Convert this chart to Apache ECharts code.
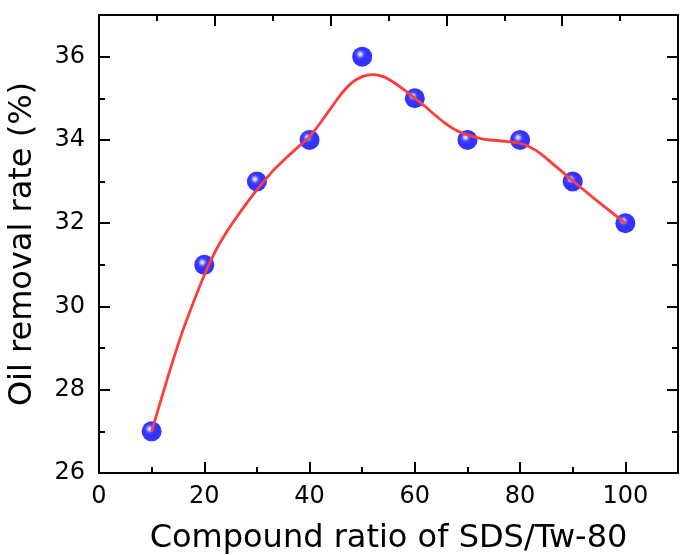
<!DOCTYPE html>
<html lang="en">
<head>
    <meta charset="UTF-8">
    <title>Oil removal rate</title>
    <script type="text/javascript" src="https://cdn.jsdelivr.net/npm/echarts@6/dist/echarts.min.js"></script>
    <style>
        html, body { margin: 0; padding: 0; background: #fff; }
    </style>
</head>
<body>
    <div id="main" style="width: 681px; height: 555px;"></div>
    <script type="text/javascript">

// measured points
var ratio = [10, 20, 30, 40, 50, 60, 70, 80, 90, 100];
var removal = [27, 31, 33, 34, 36, 35, 34, 34, 33, 32];

// red fitted curve
var fitX = [10, 12, 14, 16, 18, 20, 22, 24, 26, 28, 30, 33, 36, 38, 40, 42, 44, 46, 48, 50,
            52, 54, 56, 58, 60, 62, 64, 66, 68, 70, 73, 76, 80, 83, 86, 90, 95, 100];
var fitY = [27.0, 27.85, 28.68, 29.45, 30.12, 30.75, 31.3, 31.74, 32.12, 32.47, 32.8, 33.25, 33.62, 33.85, 34.08, 34.4, 34.75, 35.1, 35.37, 35.52,
            35.57, 35.52, 35.38, 35.2, 35.0, 34.8, 34.58, 34.38, 34.22, 34.12, 34.02, 33.98, 33.92, 33.75, 33.45, 33.02, 32.5, 32.0];

var font = 'DejaVu Sans';

var chartDom = document.getElementById('main');
var myChart = echarts.init(chartDom);
var option;

function frameAxis(pos, min, max, interval, len, showLine) {
    return {
        type: 'value',
        position: pos,
        min: min,
        max: max,
        interval: interval,
        axisLine: { show: showLine, onZero: false, lineStyle: { color: '#000', width: 2 } },
        axisTick: { show: true, inside: true, length: len, lineStyle: { color: '#000', width: 2 } },
        axisLabel: { show: false },
        splitLine: { show: false }
    };
}

var mainX = frameAxis('bottom', 0, 110, 20, 11, true);
mainX.axisLabel = {
    show: true, margin: 12, fontSize: 24, fontFamily: font, color: '#000',
    showMaxLabel: false
};
mainX.name = 'Compound ratio of SDS/Tw-80';
mainX.nameLocation = 'middle';
mainX.nameGap = 50;
mainX.nameTextStyle = { fontSize: 32, fontFamily: font, color: '#000' };

var mainY = frameAxis('left', 26, 37, 2, 11, true);
mainY.axisLabel = {
    show: true, margin: 14, fontSize: 24, fontFamily: font, color: '#000',
    showMaxLabel: false
};
mainY.name = 'Oil removal rate (%)';
mainY.nameLocation = 'middle';
mainY.nameGap = 60;
mainY.nameTextStyle = { fontSize: 32, fontFamily: font, color: '#000' };

option = {
    animation: false,
    backgroundColor: '#fff',
    grid: { left: 99, top: 15, right: 3, bottom: 82, containLabel: false, outerBoundsMode: 'none' },
    xAxis: [
        mainX,
        frameAxis('bottom', 0, 110, 10, 6, false),
        frameAxis('top', 0, 10, 2, 11, true),
        frameAxis('top', 0, 10, 1, 6, false)
    ],
    yAxis: [
        mainY,
        frameAxis('left', 26, 37, 1, 6, false),
        frameAxis('right', 26, 37, 2, 11, true),
        frameAxis('right', 26, 37, 1, 6, false)
    ],
    series: [
        {
            type: 'scatter',
            xAxisIndex: 0,
            yAxisIndex: 0,
            symbol: 'circle',
            symbolSize: 20,
            z: 2,
            itemStyle: {
                color: {
                    type: 'radial', x: 0.4, y: 0.38, r: 0.62,
                    colorStops: [
                        { offset: 0, color: '#ffffff' },
                        { offset: 0.12, color: '#b4b4ff' },
                        { offset: 0.32, color: '#1818ff' },
                        { offset: 0.5, color: '#0000ff' },
                        { offset: 1, color: '#0000ff' }
                    ]
                }
            },
            data: ratio.map(function (x, i) { return [x, removal[i]]; })
        },
        {
            type: 'line',
            xAxisIndex: 0,
            yAxisIndex: 0,
            smooth: 0.3,
            symbol: 'none',
            z: 3,
            lineStyle: { color: '#ff3b3b', width: 2.8 },
            data: fitX.map(function (x, i) { return [x, fitY[i]]; })
        }
    ]
};

option && myChart.setOption(option);
    </script>
</body>
</html>
